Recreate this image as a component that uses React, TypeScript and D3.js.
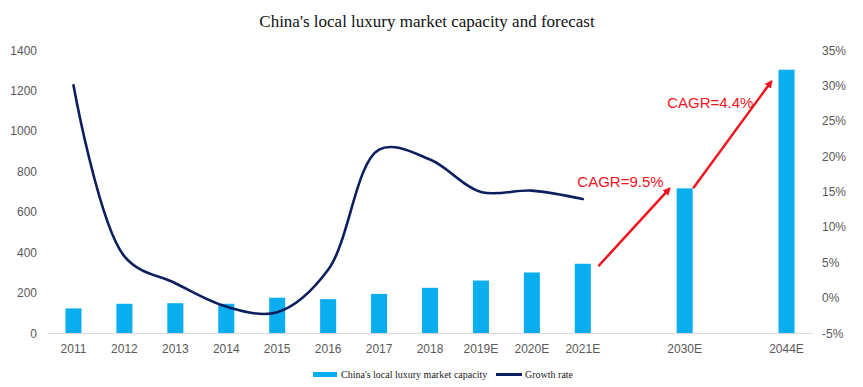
import { useMemo } from 'react'
import { scaleLinear, scalePoint, line, curveCatmullRom } from 'd3'

// Capacity bars with a smoothed growth-rate line on a second axis. The x axis
// leaves an empty slot before each long-range forecast year, so the slots list
// carries spacer keys ('_') that get no tick label.
const slots = ['2011', '2012', '2013', '2014', '2015', '2016', '2017', '2018', '2019E', '2020E', '2021E', '_a', '2030E', '_b', '2044E']

const capacityYears = ['2011', '2012', '2013', '2014', '2015', '2016', '2017', '2018', '2019E', '2020E', '2021E', '2030E', '2044E']
const capacity = [124, 147, 150, 147, 177, 170, 196, 226, 262, 302, 345, 718, 1305]

const growthYears = ['2011', '2012', '2013', '2014', '2015', '2016', '2017', '2018', '2019E', '2020E', '2021E']
const growth = [30.1, 5.9, 2.1, -1.2, -2.0, 4.0, 21.0, 19.6, 15.0, 15.2, 14.0]

const leftTicks = [0, 200, 400, 600, 800, 1000, 1200, 1400]
const rightTicks = [-5, 0, 5, 10, 15, 20, 25, 30, 35]

const cagr = [
  { from: '2021E', to: '2030E', label: 'CAGR=9.5%' },
  { from: '2030E', to: '2044E', label: 'CAGR=4.4%' },
]

const BAR = '#0AAEEF'
const LINE = '#0B1F5E'
const RED = '#F0141E'
const TICK = '#595959'
const SANS = '"Liberation Sans", Arial, sans-serif'
const SERIF = '"Liberation Serif", "Times New Roman", serif'

export default function App() {
  const width = 863
  const height = 387
  const x = scalePoint<string>().domain(slots).range([48, 812]).padding(0.5)
  const bw = x.step() * 0.315
  const y = scaleLinear().domain([0, 1400]).range([333.5, 50.5])
  const yr = scaleLinear().domain([-5, 35]).range([333.5, 50.5])

  const path = useMemo(
    () =>
      line<number>()
        .x((_, i) => x(growthYears[i]) ?? 0)
        .y((d) => yr(d))
        .curve(curveCatmullRom.alpha(0.5))(growth),
    [],
  )

  const val = (k: string) => capacity[capacityYears.indexOf(k)]

  return (
    <svg width={width} height={height} style={{ position: 'absolute', left: 0, top: 0, background: '#fff' }}>
      <defs>
        <marker id="head" viewBox="0 0 10 10" refX={8} refY={5} markerWidth={3.2} markerHeight={3.2} orient="auto">
          <path d="M0,0 L10,5 L0,10 Z" fill={RED} />
        </marker>
      </defs>

      <text x={427} y={27} textAnchor="middle" fontFamily={SERIF} fontSize={17} fill="#111">
        China's local luxury market capacity and forecast
      </text>

      {leftTicks.map((t) => (
        <text key={t} x={37} y={y(t) + 4} textAnchor="end" fontFamily={SANS} fontSize={12} fill={TICK}>
          {t}
        </text>
      ))}
      {rightTicks.map((t) => (
        <text key={t} x={822} y={yr(t) + 4} textAnchor="start" fontFamily={SANS} fontSize={12} fill={TICK}>
          {`${t}%`}
        </text>
      ))}

      {capacityYears.map((k, i) => (
        <rect key={k} x={(x(k) ?? 0) - bw / 2} y={y(capacity[i])} width={bw} height={y(0) - y(capacity[i])} fill={BAR} />
      ))}

      <line x1={48} x2={812} y1={y(0)} y2={y(0)} stroke="#d9d9d9" strokeWidth={1} />

      {slots
        .filter((k) => !k.startsWith('_'))
        .map((k) => (
          <text key={k} x={x(k)} y={353} textAnchor="middle" fontFamily={SANS} fontSize={12} fill={TICK}>
            {k}
          </text>
        ))}

      {path && <path d={path} fill="none" stroke={LINE} strokeWidth={2.6} strokeLinecap="round" />}

      {cagr.map((c, i) => {
        const x0 = (x(c.from) ?? 0) + (i === 0 ? 15.5 : 8.5)
        const y0 = y(val(c.from)) + (i === 0 ? 2.5 : 0)
        const x1 = (x(c.to) ?? 0) - 15
        const y1 = y(val(c.to)) + (i === 0 ? 0 : 11.5)
        return (
          <g key={c.label}>
            <line x1={x0} y1={y0} x2={x1} y2={y1} stroke={RED} strokeWidth={2.5} markerEnd="url(#head)" />
            <text
              x={i === 0 ? x0 - 21 : x0 - 26}
              y={i === 0 ? y1 - 1 : y1 + 27}
              fontFamily={SANS}
              fontSize={15}
              fill={RED}
            >
              {c.label}
            </text>
          </g>
        )
      })}

      <g fontFamily={SERIF} fontSize={10} fill="#222">
        <rect x={313} y={372} width={24} height={5} fill={BAR} />
        <text x={341} y={377.5}>China's local luxury market capacity</text>
        <line x1={496} x2={522} y1={374.5} y2={374.5} stroke={LINE} strokeWidth={3} />
        <text x={525} y={377.5}>Growth rate</text>
      </g>
    </svg>
  )
}
